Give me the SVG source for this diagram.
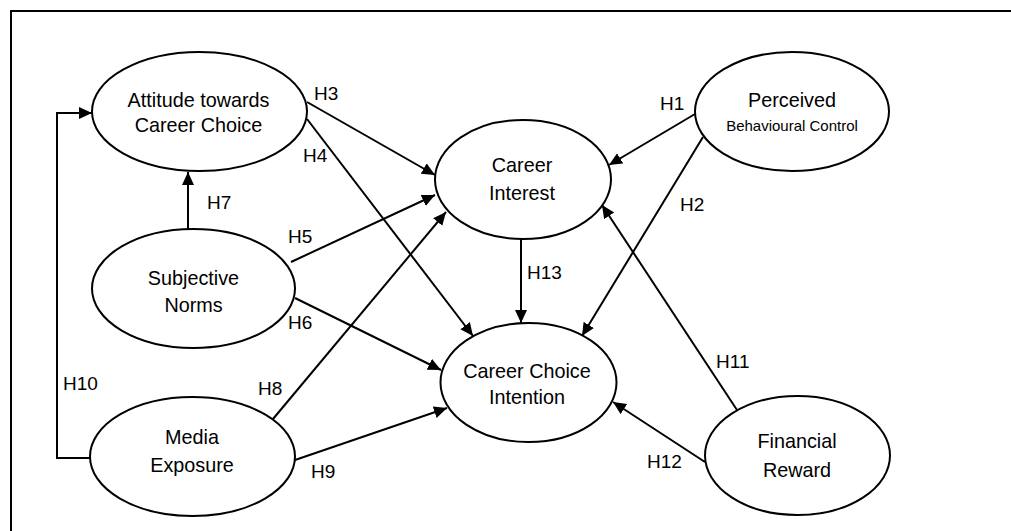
<svg xmlns="http://www.w3.org/2000/svg" width="1011" height="531" viewBox="0 0 1011 531">
  <style>
    .node ellipse { fill: #ffffff; stroke: #000000; stroke-width: 2; }
    .node text, .hyp { font-family: "Liberation Sans", Arial, sans-serif; font-size: 19px; fill: #000000; }
    .node text { text-anchor: middle; font-size: 19.8px; }
    .node text.small { font-size: 15px; }
    .edge { fill: none; stroke: #000000; stroke-width: 2; marker-end: url(#arrow); }
    .plain { fill: none; stroke: #000000; stroke-width: 2; }
  </style>
  <defs>
    <marker id="arrow" markerUnits="userSpaceOnUse" markerWidth="14" markerHeight="13" refX="13" refY="6" orient="auto">
      <path d="M0,0 L13,6 L0,12 z" fill="#000000"/>
    </marker>
  </defs>

  <rect width="1011" height="531" fill="#ffffff"/>

  <!-- outer frame: top and left edges -->
  <path class="plain" d="M11,531 L11,11 L1011,11"/>

  <!-- connectors -->
  <g id="connectors">
    <!-- H10: Media Exposure -> Attitude, routed round the left -->
    <path class="edge" d="M90,458 L57,458 L57,113 L92,113"/>
    <!-- H7 -->
    <line class="edge" x1="188" y1="229" x2="188" y2="172"/>
    <!-- H3 -->
    <line class="edge" x1="307" y1="102" x2="435" y2="175"/>
    <!-- H4 -->
    <line class="edge" x1="307" y1="119" x2="473" y2="336"/>
    <!-- H5 -->
    <line class="edge" x1="291" y1="262" x2="435" y2="195"/>
    <!-- H6 -->
    <line class="edge" x1="295" y1="298" x2="441" y2="370"/>
    <!-- H8 -->
    <line class="edge" x1="273" y1="419" x2="446" y2="212"/>
    <!-- H9 -->
    <line class="edge" x1="295" y1="460" x2="447" y2="408"/>
    <!-- H13 -->
    <line class="edge" x1="521" y1="239" x2="521" y2="323"/>
    <!-- H1 -->
    <line class="edge" x1="695" y1="114" x2="609" y2="165"/>
    <!-- H2 -->
    <line class="edge" x1="703" y1="137" x2="582" y2="336"/>
    <!-- H11 -->
    <line class="edge" x1="737" y1="410" x2="602" y2="205"/>
    <!-- H12 -->
    <line class="edge" x1="705" y1="462" x2="613" y2="402"/>
  </g>

  <!-- hypothesis labels -->
  <g id="labels">
    <text class="hyp" x="314" y="100">H3</text>
    <text class="hyp" x="303" y="162">H4</text>
    <text class="hyp" x="207" y="209">H7</text>
    <text class="hyp" x="288" y="243">H5</text>
    <text class="hyp" x="288" y="329">H6</text>
    <text class="hyp" x="63" y="390">H10</text>
    <text class="hyp" x="258" y="395">H8</text>
    <text class="hyp" x="311" y="478">H9</text>
    <text class="hyp" x="660" y="110">H1</text>
    <text class="hyp" x="680" y="211">H2</text>
    <text class="hyp" x="527" y="279">H13</text>
    <text class="hyp" x="716" y="368">H11</text>
    <text class="hyp" x="647" y="468">H12</text>
  </g>

  <!-- constructs -->
  <g id="attitude" class="node">
    <ellipse cx="199.5" cy="111.5" rx="107.5" ry="59.5"/>
    <text x="198.5" y="107">Attitude towards</text>
    <text x="198.5" y="132">Career Choice</text>
  </g>
  <g id="subjective-norms" class="node">
    <ellipse cx="193.5" cy="288.5" rx="101.5" ry="59.5"/>
    <text x="193.5" y="285">Subjective</text>
    <text x="193.5" y="312">Norms</text>
  </g>
  <g id="media-exposure" class="node">
    <ellipse cx="192.5" cy="456.5" rx="102.5" ry="59.5"/>
    <text x="192" y="444">Media</text>
    <text x="192" y="472">Exposure</text>
  </g>
  <g id="career-interest" class="node">
    <ellipse cx="523" cy="179.5" rx="88" ry="59.5"/>
    <text x="522" y="172">Career</text>
    <text x="522" y="200">Interest</text>
  </g>
  <g id="perceived-control" class="node">
    <ellipse cx="792" cy="111.5" rx="97" ry="59.5"/>
    <text x="792" y="107">Perceived</text>
    <text class="small" x="792" y="131">Behavioural Control</text>
  </g>
  <g id="career-choice-intention" class="node">
    <ellipse cx="528.5" cy="382.5" rx="88" ry="59.5"/>
    <text x="527" y="378">Career Choice</text>
    <text x="527" y="404">Intention</text>
  </g>
  <g id="financial-reward" class="node">
    <ellipse cx="797.5" cy="455.5" rx="92.5" ry="59.5"/>
    <text x="797" y="448">Financial</text>
    <text x="797" y="477">Reward</text>
  </g>
</svg>
